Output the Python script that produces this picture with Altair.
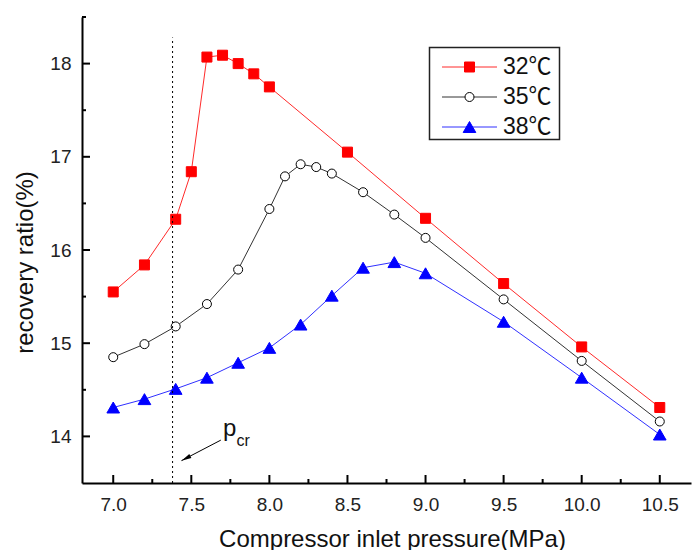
import math
import altair as alt
import pandas as pd

# ---------------- data ----------------
SERIES = ["32℃", "35℃", "38℃"]

P_32 = [7.0, 7.2, 7.4, 7.5, 7.6, 7.7, 7.8, 7.9, 8.0, 8.5, 9.0, 9.5, 10.0, 10.5]
R_32 = [15.55, 15.84, 16.33, 16.84, 18.07, 18.09, 18.00, 17.89, 17.75, 17.05, 16.34, 15.64, 14.96, 14.31]

P_35 = [7.0, 7.2, 7.4, 7.6, 7.8, 8.0, 8.1, 8.2, 8.3, 8.4, 8.6, 8.8, 9.0, 9.5, 10.0, 10.5]
R_35 = [14.85, 14.99, 15.18, 15.42, 15.79, 16.44, 16.79, 16.92, 16.89, 16.82, 16.62, 16.38, 16.13, 15.47, 14.81, 14.16]

P_38 = [7.0, 7.2, 7.4, 7.6, 7.8, 8.0, 8.2, 8.4, 8.6, 8.8, 9.0, 9.5, 10.0, 10.5]
R_38 = [14.31, 14.40, 14.51, 14.63, 14.79, 14.95, 15.20, 15.51, 15.81, 15.87, 15.75, 15.23, 14.63, 14.02]

X_MAJOR = [7.0, 7.5, 8.0, 8.5, 9.0, 9.5, 10.0, 10.5]
X_MINOR = [7.25, 7.75, 8.25, 8.75, 9.25, 9.75, 10.25]
Y_MAJOR = [14, 15, 16, 17, 18]
Y_MINOR = [14.5, 15.5, 16.5, 17.5, 18.5]

PCR = 7.38  # critical pressure marker

# ---------------- styling ----------------
W, H = 609, 466
XDOM = [6.8, 10.7]
YDOM = [13.5, 18.5]
FONT = "Liberation Sans, Arial, Noto Sans CJK SC"
LINE_COLORS = ["#ff2a2a", "#333333", "#3030ff"]
STROKES = ["#ff0000", "#000000", "#0000ff"]
FILLS = ["#ff0000", "#ffffff", "#0000ff"]
SHAPES = ["square", "circle", "triangle-up"]
SIZES = [100, 81, 160]

series_data = [P_32, R_32], [P_35, R_35], [P_38, R_38]
frames = [pd.DataFrame({"series": s, "p": ps, "r": rs}) for s, (ps, rs) in zip(SERIES, series_data)]
df = pd.concat(frames, ignore_index=True)

xs = alt.Scale(domain=XDOM, nice=False, zero=False)
ys = alt.Scale(domain=YDOM, nice=False, zero=False)

color_enc = alt.Color("series:N", scale=alt.Scale(domain=SERIES, range=LINE_COLORS), legend=None)
shape_enc = alt.Shape("series:N", scale=alt.Scale(domain=SERIES, range=SHAPES), legend=None)
fill_enc = alt.Fill("series:N", scale=alt.Scale(domain=SERIES, range=FILLS), legend=None)
stroke_enc = alt.Stroke("series:N", scale=alt.Scale(domain=SERIES, range=STROKES), legend=None)

x_axis = alt.Axis(values=X_MAJOR, format=".1f", title="Compressor inlet pressure(MPa)",
                  grid=False, ticks=False, tickSize=0, domainColor="black", domainWidth=2,
                  labelFont=FONT, labelFontSize=19, labelColor="#222", labelPadding=12,
                  labelFlush=False, titleFont=FONT, titleFontSize=24, titleFontWeight="normal",
                  titleColor="#111", titleX=310, titleY=63, titleBaseline="alphabetic",
                  titleAlign="center")
y_axis = alt.Axis(values=Y_MAJOR, format="d", title="recovery ratio(%)",
                  grid=False, ticks=False, tickSize=0, domainColor="black", domainWidth=2,
                  labelFont=FONT, labelFontSize=19, labelColor="#222", labelPadding=11,
                  titleFont=FONT, titleFontSize=24, titleFontWeight="normal",
                  titleColor="#111", titleAngle=270, titleX=-57, titleY=245,
                  titleBaseline="middle", titleAlign="center")

lines = alt.Chart(df).mark_line(strokeWidth=1).encode(
    x=alt.X("p:Q", scale=xs, axis=x_axis),
    y=alt.Y("r:Q", scale=ys, axis=y_axis),
    color=color_enc,
)

point_layers = [
    alt.Chart(f).mark_point(filled=True, opacity=1, strokeWidth=1, size=sz).encode(
        x=alt.X("p:Q", scale=xs), y=alt.Y("r:Q", scale=ys),
        shape=shape_enc, fill=fill_enc, stroke=stroke_enc)
    for f, sz in zip(frames, SIZES)
]

def xticks(vals, length):
    return alt.Chart(pd.DataFrame({"p": vals})).mark_rule(strokeWidth=2, color="black").encode(
        x=alt.X("p:Q", scale=xs), y=alt.value(H), y2=alt.value(H - length))

def yticks(vals, length):
    return alt.Chart(pd.DataFrame({"r": vals})).mark_rule(strokeWidth=2, color="black").encode(
        y=alt.Y("r:Q", scale=ys), x=alt.value(0), x2=alt.value(length))

# critical pressure dotted line
pcr_line = alt.Chart(pd.DataFrame({"p": [PCR], "r": [YDOM[0]], "r2": [18.28]})).mark_rule(
    strokeDash=[2, 3], strokeWidth=1, color="black").encode(
    x=alt.X("p:Q", scale=xs), y=alt.Y("r:Q", scale=ys), y2="r2:Q")

# arrow annotation
A0 = (7.689, 13.96)
A1 = (7.437, 13.74)
dxp = (A1[0] - A0[0]) * W / (XDOM[1] - XDOM[0])
dyp = -(A1[1] - A0[1]) * H / (YDOM[1] - YDOM[0])
ang = (math.degrees(math.atan2(dxp, -dyp)) + 360) % 360

arrow_shaft = alt.Chart(pd.DataFrame({"p": [A0[0]], "p2": [A1[0]], "r": [A0[1]], "r2": [A1[1]]})).mark_rule(
    strokeWidth=1, color="black").encode(
    x=alt.X("p:Q", scale=xs), x2="p2:Q", y=alt.Y("r:Q", scale=ys), y2="r2:Q")
arrow_head = alt.Chart(pd.DataFrame({"p": [A1[0]], "r": [A1[1]]})).mark_point(
    shape="M0,0L0.45,2L-0.45,2Z", filled=True, color="black", opacity=1, size=100, angle=ang).encode(
    x=alt.X("p:Q", scale=xs), y=alt.Y("r:Q", scale=ys))

p_text = alt.Chart(pd.DataFrame({"p": [7.703], "r": [14.0], "t": ["p"]})).mark_text(
    align="left", baseline="alphabetic", fontSize=24, font=FONT, color="#111").encode(
    x=alt.X("p:Q", scale=xs), y=alt.Y("r:Q", scale=ys), text="t:N")
cr_text = alt.Chart(pd.DataFrame({"p": [7.79], "r": [13.90], "t": ["cr"]})).mark_text(
    align="left", baseline="alphabetic", fontSize=16, font=FONT, color="#111").encode(
    x=alt.X("p:Q", scale=xs), y=alt.Y("r:Q", scale=ys), text="t:N")

# ---------------- legend (box + one row per series) ----------------
LEG_TOP, LEG_STEP = 50, 30
leg_layers = [
    alt.Chart(pd.DataFrame({"a": [0]})).mark_rect(
        fill="white", stroke="#222", strokeWidth=1.5).encode(
        x=alt.value(347.5), x2=alt.value(477.5), y=alt.value(30.5), y2=alt.value(122.5))
]
for i, (s, sz) in enumerate(zip(SERIES, SIZES)):
    row = pd.DataFrame({"series": [s]})
    yv = alt.value(LEG_TOP + LEG_STEP * i)
    leg_layers.append(alt.Chart(row).mark_rule(strokeWidth=1).encode(
        y=yv, x=alt.value(360), x2=alt.value(415), color=color_enc))
    leg_layers.append(alt.Chart(row).mark_point(filled=True, opacity=1, strokeWidth=1, size=sz).encode(
        y=yv, x=alt.value(387.5), shape=shape_enc, fill=fill_enc, stroke=stroke_enc))
    leg_layers.append(alt.Chart(row).mark_text(
        align="left", baseline="middle", fontSize=23, font=FONT, color="#111").encode(
        y=yv, x=alt.value(421), text="series:N"))

chart = alt.layer(
    lines, *point_layers,
    xticks(X_MAJOR, 8), xticks(X_MINOR, 4), yticks(Y_MAJOR, 8), yticks(Y_MINOR, 4),
    pcr_line, arrow_shaft, arrow_head, p_text, cr_text,
    *leg_layers,
).properties(
    width=W, height=H,
    padding={"left": 82, "top": 17, "right": 4, "bottom": 67},
    autosize=alt.AutoSizeParams(type="none"),
).configure_view(stroke=None)

chart.save("out.html", embed_options={"renderer": "svg", "actions": False})
